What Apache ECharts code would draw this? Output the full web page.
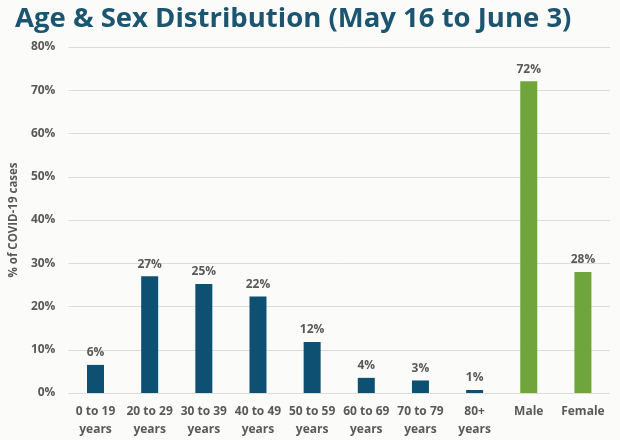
<!DOCTYPE html>
<html><head><meta charset="utf-8">
<script src="https://cdn.jsdelivr.net/npm/echarts@6/dist/echarts.min.js"></script>
<style>html,body{margin:0;padding:0;background:#fbfbfa;}#c{width:620px;height:440px;}</style>
</head><body><div id="c"></div>
<script>
const categories = ['0 to 19\nyears','20 to 29\nyears','30 to 39\nyears','40 to 49\nyears','50 to 59\nyears','60 to 69\nyears','70 to 79\nyears','80+\nyears','Male','Female'];
const ageValues = [6.5, 27.0, 25.2, 22.3, 11.8, 3.5, 2.9, 0.7, null, null];
const sexValues = [null, null, null, null, null, null, null, null, 72.1, 28.0];
const valueLabels = ['6%','27%','25%','22%','12%','4%','3%','1%','72%','28%'];
const yTicks = [0,10,20,30,40,50,60,70,80];

const chart = echarts.init(document.getElementById('c'));
const lbl = {show:true, position:'top', distance:6, color:'#595959', fontWeight:'bold', fontSize:12, fontFamily:'Open Sans',
  formatter: p => valueLabels[p.dataIndex]};
chart.setOption({
  backgroundColor:'#fbfbfa',
  title:{text:'Age & Sex Distribution (May 16 to June 3)', left:10, top:0,
    textStyle:{color:'#1b5570', fontSize:27.5, fontWeight:'bold', fontFamily:'Open Sans'}},
  grid:{left:65, right:10, top:47, bottom:47},
  xAxis:{type:'category', data:categories, axisLine:{show:false}, axisTick:{show:false},
    axisLabel:{color:'#595959', fontWeight:'bold', fontSize:12, fontFamily:'Open Sans', lineHeight:18, margin:10, interval:0}},
  yAxis:{type:'value', min:0, max:80, interval:10,
    name:'% of COVID-19 cases', nameLocation:'middle', nameGap:40, nameRotate:90,
    nameTextStyle:{color:'#595959', fontWeight:'bold', fontSize:11.5, fontFamily:'Open Sans'},
    axisLabel:{color:'#595959', fontWeight:'bold', fontSize:12, fontFamily:'Open Sans', margin:13, formatter: v => v + '%'},
    splitLine:{lineStyle:{color:'#dcdcdc'}}},
  series:[
    {type:'bar', data:ageValues, barWidth:17, barGap:'-100%', itemStyle:{color:'#0e5072'}, label:lbl},
    {type:'bar', data:sexValues, barWidth:17, itemStyle:{color:'#6fa53a'}, label:lbl}
  ]
});
</script></body></html>
